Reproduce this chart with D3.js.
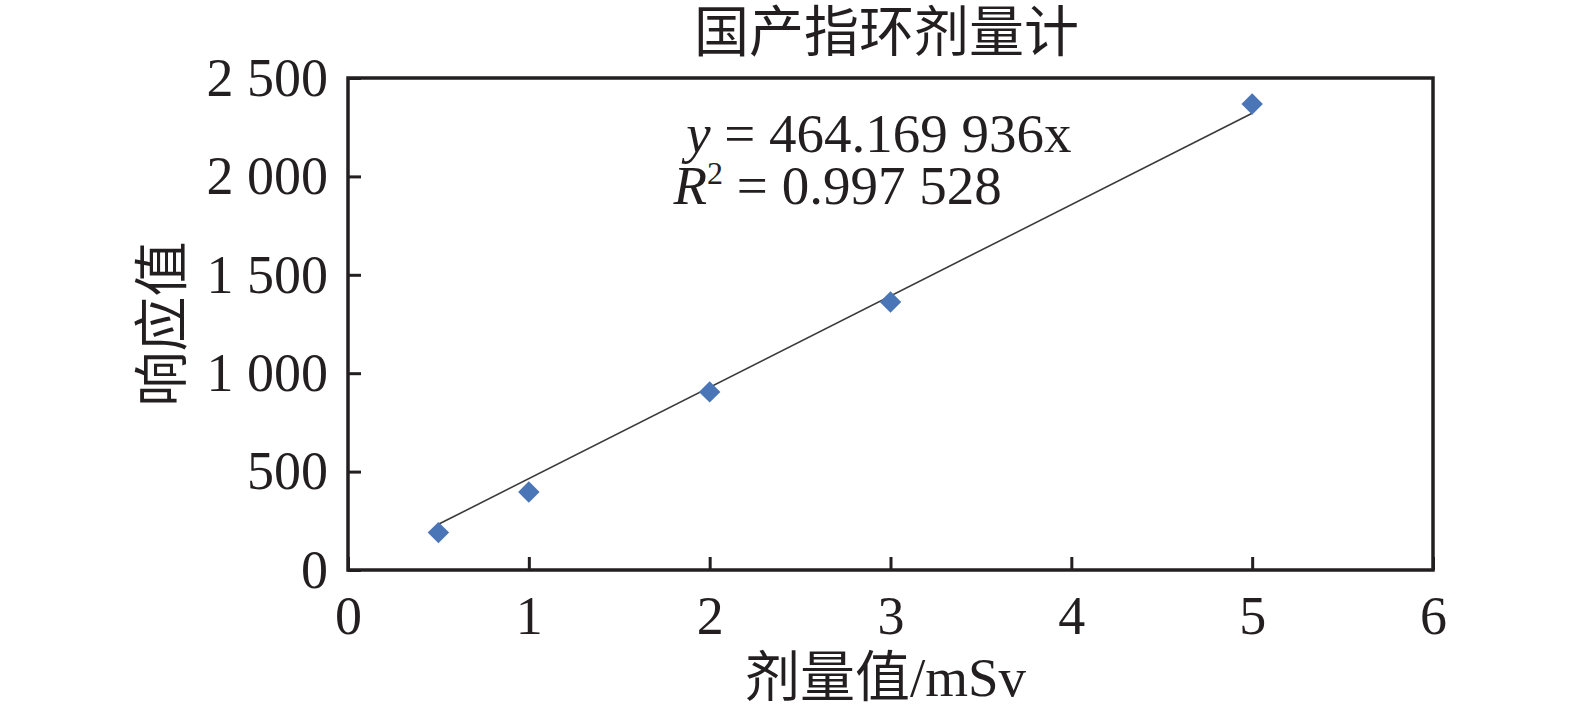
<!DOCTYPE html>
<html>
<head>
<meta charset="utf-8">
<script src="https://cdn.jsdelivr.net/npm/d3@7"></script>
<style>
  body { margin: 0; background: #fff; }
  text { font-family: "Liberation Serif", "Noto Sans CJK SC", serif; fill: #231f20; }
</style>
</head>
<body>
<svg id="chart" width="1575" height="719"></svg>
<script>
// data
var doses = [0.5, 1, 2, 3, 5];
var responses = [190, 396, 905, 1362, 2368];
var slope = 464.169936;
var xTicks = [0, 1, 2, 3, 4, 5, 6];
var yTicks = [0, 500, 1000, 1500, 2000, 2500];
var titleText = "国产指环剂量计";
var xLabel = "剂量值/mSv";
var yLabel = "响应值";

var margin = {left: 348, right: 142, top: 78, bottom: 149};
var W = 1575, H = 719;
var w = W - margin.left - margin.right;
var h = H - margin.top - margin.bottom;

var svg = d3.select("#chart");
var g = svg.append("g")
    .attr("transform", "translate(" + margin.left + "," + margin.top + ")");

var x = d3.scaleLinear().domain([0, 6]).range([0, w]);
var y = d3.scaleLinear().domain([0, 2500]).range([h, 0]);

var fmt = d3.formatLocale({decimal: ".", thousands: " ", grouping: [3], currency: ["", ""]}).format(",");

// x axis, ticks pointing inward
var xAxis = g.append("g")
    .attr("transform", "translate(0," + h + ")")
    .call(d3.axisBottom(x).tickValues(xTicks).tickFormat(d3.format("d")).tickSizeInner(-13).tickSizeOuter(0).tickPadding(26));
xAxis.select(".domain").remove();
xAxis.selectAll("line").attr("stroke", "#231f20").attr("stroke-width", 3);
xAxis.selectAll("text").style("font-size", "54px").attr("fill", "#231f20");

var yAxis = g.append("g")
    .call(d3.axisLeft(y).tickValues(yTicks).tickFormat(fmt).tickSizeInner(-13).tickSizeOuter(0).tickPadding(20));
yAxis.select(".domain").remove();
yAxis.selectAll("line").attr("stroke", "#231f20").attr("stroke-width", 3);
yAxis.selectAll("text").style("font-size", "54px").attr("fill", "#231f20");

// frame
g.append("rect")
    .attr("x", 0).attr("y", 0)
    .attr("width", w).attr("height", h)
    .attr("fill", "none")
    .attr("stroke", "#231f20")
    .attr("stroke-width", 3.5);

// trend line through origin
var x0 = d3.min(doses), x1 = d3.max(doses);
g.append("line")
    .attr("x1", x(x0)).attr("y1", y(slope * x0))
    .attr("x2", x(x1)).attr("y2", y(slope * x1))
    .attr("stroke", "#3a3a3a")
    .attr("stroke-width", 1.6);

// points
var pts = doses.map(function(d, i) { return [d, responses[i]]; });
g.selectAll(".pt")
    .data(pts)
    .enter().append("path")
    .attr("class", "pt")
    .attr("d", d3.symbol().type(d3.symbolSquare).size(230))
    .attr("transform", function(d) { return "translate(" + x(d[0]) + "," + y(d[1]) + ") rotate(45)"; })
    .attr("fill", "#4a76b8");

// equation text
var eq = g.append("text")
    .attr("x", x(1.87)).attr("y", 74)
    .style("font-size", "55px");
eq.append("tspan").style("font-style", "italic").text("y");
eq.append("tspan").text(" = 464.169 936x");

var r2 = g.append("text")
    .attr("x", x(1.80)).attr("y", 126)
    .style("font-size", "55px");
r2.append("tspan").style("font-style", "italic").text("R");
r2.append("tspan").attr("dy", -20).style("font-size", "32px").text("2");
r2.append("tspan").attr("dy", 20).text(" = 0.997 528");

// title and axis labels
svg.append("text")
    .attr("x", margin.left + w / 2 - 4).attr("y", 51)
    .attr("text-anchor", "middle")
    .style("font-size", "55px")
    .text(titleText);

svg.append("text")
    .attr("x", margin.left + w / 2 - 5).attr("y", 696)
    .attr("text-anchor", "middle")
    .style("font-size", "55px")
    .text(xLabel);

svg.append("text")
    .attr("transform", "translate(181," + (margin.top + h / 2) + ") rotate(-90)")
    .attr("text-anchor", "middle")
    .style("font-size", "55px")
    .text(yLabel);
</script>
</body>
</html>
